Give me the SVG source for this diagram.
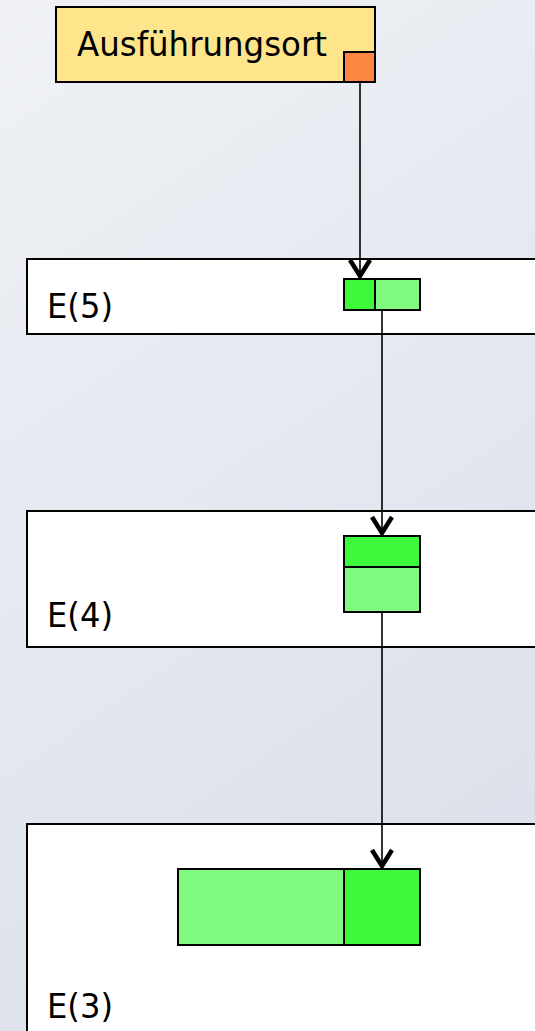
<svg xmlns="http://www.w3.org/2000/svg" width="535" height="1031" viewBox="0 0 535 1031">
  <defs>
    <linearGradient id="bg" x1="0" y1="0" x2="0.35" y2="1">
      <stop offset="0" stop-color="#eff1f5"/>
      <stop offset="1" stop-color="#dce1eb"/>
    </linearGradient>
    <!-- open chevron head; marker x axis runs along the line -->
    <marker id="chevron" viewBox="-22 -13 24 26" refX="0" refY="0" markerWidth="24" markerHeight="26" markerUnits="userSpaceOnUse" orient="auto">
      <path d="M-18,-10 L-2,0 L-18,10" fill="none" stroke="#000" stroke-width="4.5" stroke-linejoin="miter"/>
    </marker>
  </defs>
  <style>
    .frame { fill: #ffffff; stroke: #000; stroke-width: 2; }
    .label { font-family: "DejaVu Sans", Verdana, sans-serif; font-size: 34px; fill: #000; }
    .dark { fill: #3cf93c; stroke: #000; stroke-width: 2; }
    .light { fill: #80fb80; stroke: #000; stroke-width: 2; }
    .wire { fill: none; stroke: #000; stroke-width: 1.6; }
  </style>

  <rect x="0" y="0" width="535" height="1031" fill="url(#bg)"/>

  <!-- source node -->
  <g id="ausfuehrungsort">
    <rect x="56" y="7" width="319" height="75" fill="#fee48a" stroke="#000" stroke-width="2"/>
    <text class="label" x="77" y="56" textLength="250" lengthAdjust="spacingAndGlyphs">Ausführungsort</text>
    <rect x="344" y="52" width="31" height="30" fill="#fd8640" stroke="#000" stroke-width="2"/>
  </g>

  <!-- level E(5) -->
  <g id="e5">
    <rect class="frame" x="27" y="259" width="520" height="75"/>
    <text class="label" x="47" y="318" textLength="66" lengthAdjust="spacingAndGlyphs">E(5)</text>
    <rect class="dark" x="344" y="279" width="31" height="31"/>
    <rect class="light" x="375" y="279" width="45" height="31"/>
  </g>

  <!-- level E(4) -->
  <g id="e4">
    <rect class="frame" x="27" y="511" width="520" height="136"/>
    <text class="label" x="47" y="627" textLength="66" lengthAdjust="spacingAndGlyphs">E(4)</text>
    <rect class="dark" x="344" y="536" width="76" height="31"/>
    <rect class="light" x="344" y="567" width="76" height="45"/>
  </g>

  <!-- level E(3) -->
  <g id="e3">
    <rect class="frame" x="27" y="824" width="520" height="220"/>
    <text class="label" x="47" y="1018" textLength="66" lengthAdjust="spacingAndGlyphs">E(3)</text>
    <rect class="light" x="178" y="869" width="166" height="76"/>
    <rect class="dark" x="344" y="869" width="76" height="76"/>
  </g>

  <!-- connectors -->
  <g id="connectors">
    <path class="wire" d="M360,83 L360,278" marker-end="url(#chevron)"/>
    <path class="wire" d="M382,311 L382,535" marker-end="url(#chevron)"/>
    <path class="wire" d="M382,613 L382,868" marker-end="url(#chevron)"/>
  </g>
</svg>
